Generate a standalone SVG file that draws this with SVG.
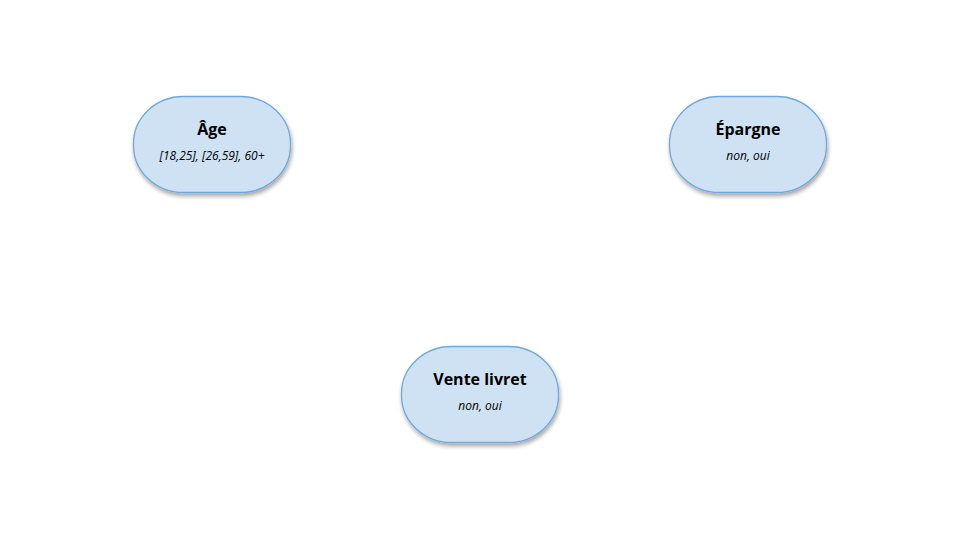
<svg xmlns="http://www.w3.org/2000/svg" width="960" height="540" viewBox="0 0 960 540">
<defs>
<filter id="sh" x="-20%" y="-20%" width="140%" height="150%">
<feGaussianBlur in="SourceAlpha" stdDeviation="2"/>
<feOffset dx="1" dy="3" result="b"/>
<feComponentTransfer><feFuncA type="linear" slope="0.35"/></feComponentTransfer>
<feMerge><feMergeNode/><feMergeNode in="SourceGraphic"/></feMerge>
</filter>
</defs>
<style>
.n{fill:#cfe2f3;stroke:#6fa8dc;stroke-width:1.3;filter:url(#sh)}
.t{font-family:"Open Sans",sans-serif;font-weight:bold;font-size:16px;fill:#000;text-anchor:middle}
.s{font-family:"Open Sans",sans-serif;font-style:italic;font-size:12px;fill:#000;text-anchor:middle}
</style>
<rect width="960" height="540" fill="#fff"/>
<g id="connectors"></g>
<g id="age">
<rect class="n" x="133.5" y="96.5" width="157" height="96" rx="50" ry="47"/>
<text class="t" x="212" y="135">Âge</text>
<text class="s" x="212" y="160">[18,25], [26,59], 60+</text>
</g>
<g id="epargne">
<rect class="n" x="669.5" y="96.5" width="157" height="96" rx="50" ry="47"/>
<text class="t" x="748" y="135">Épargne</text>
<text class="s" x="748" y="160">non, oui</text>
</g>
<g id="vente">
<rect class="n" x="401.5" y="346.5" width="157" height="96" rx="50" ry="47"/>
<text class="t" x="480" y="385">Vente livret</text>
<text class="s" x="480" y="410">non, oui</text>
</g>
</svg>
